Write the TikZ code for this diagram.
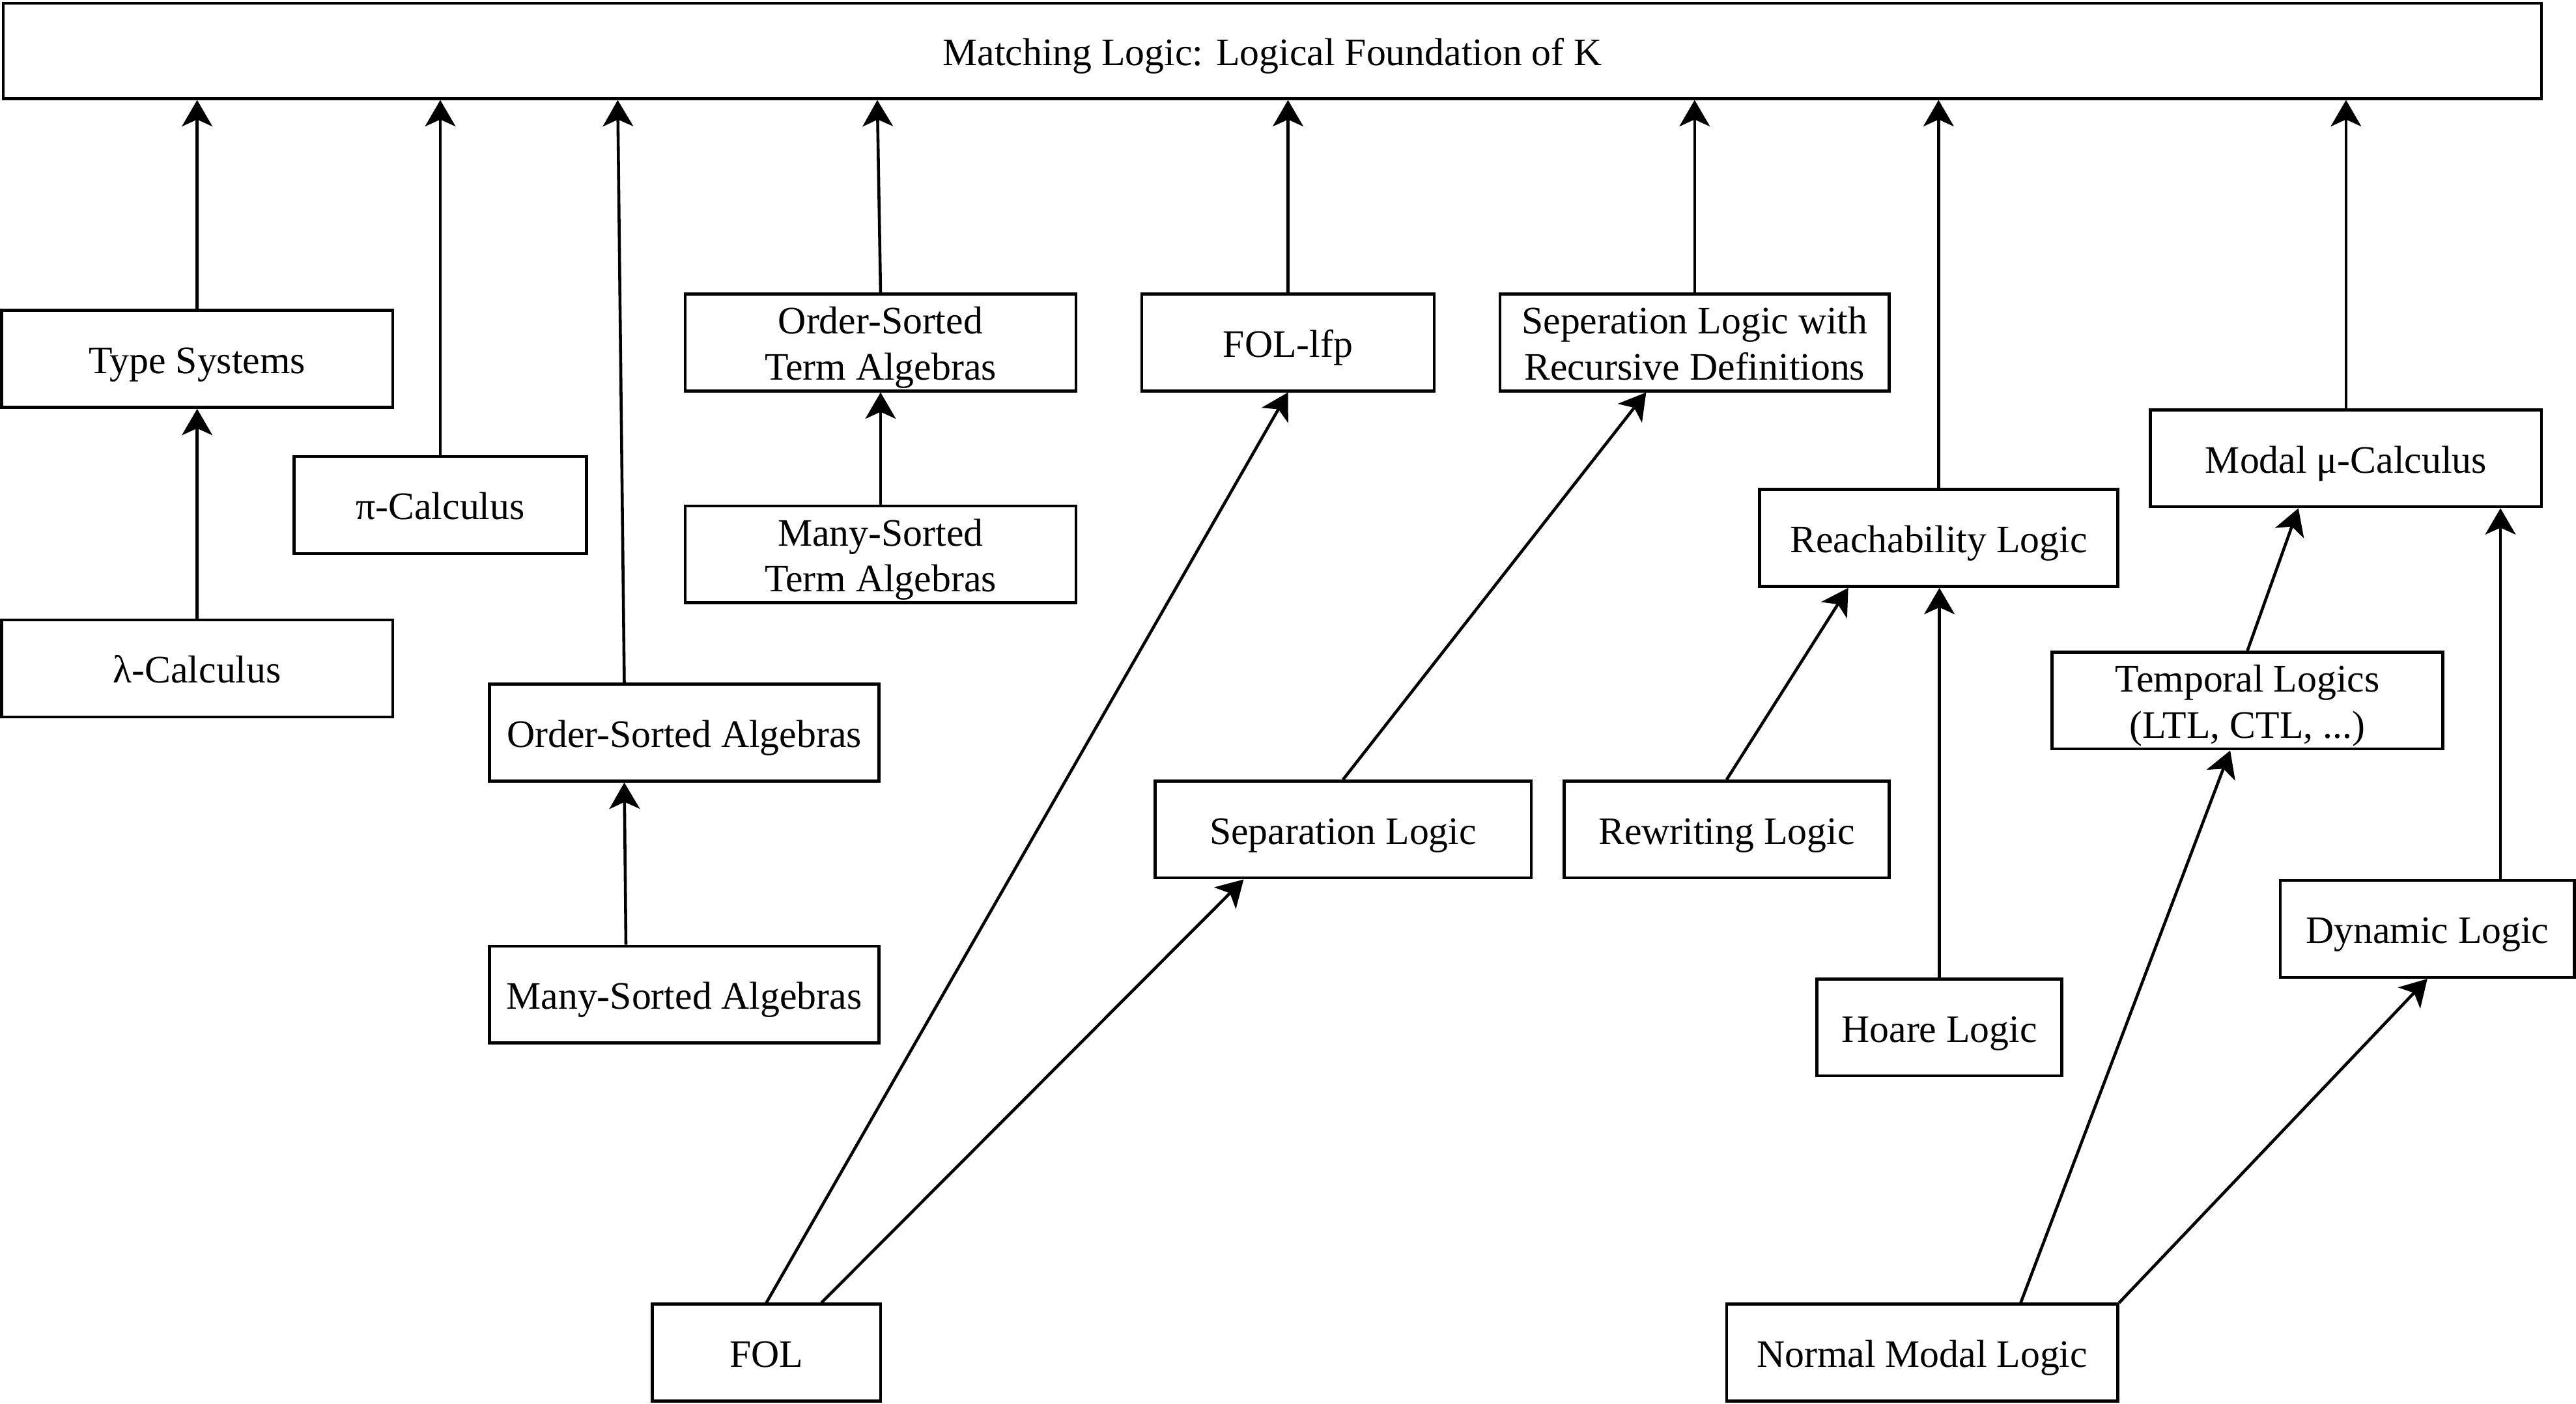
\documentclass[tikz,border=0pt]{standalone}
\usepackage{fontspec}
\setmainfont{Liberation Serif}
\usetikzlibrary{arrows.meta,calc}
\newcommand\lstr{\rule[-3.7pt]{0pt}{20.1pt}}
\begin{document}
\begin{tikzpicture}[x=0.025223cm,y=-0.025223cm,
  box/.style={draw,line width=1.3pt,inner sep=0pt,align=center,minimum height=59*0.025223cm,execute at begin node=\lstr},
  bw/.style={minimum width=#1*0.025223cm},
  arr/.style={line width=1.3pt,-{Stealth[length=11.5pt,width=13.3pt,inset=3pt]}},
  font=\fontsize{17}{20.1}\selectfont]
\useasboundingbox (0,0) rectangle (1568,854.4);
\node[box,bw=1545,minimum height=58*0.025223cm] (top) at (774.5,31) {Matching Logic: Logical Foundation of K};
\node[box,bw=238] (types) at (120,218.5) {Type Systems};
\node[box,bw=238] (lambda) at (120,407) {λ-Calculus};
\node[box,bw=178] (pi) at (268,307.5) {π-Calculus};
\node[box,bw=237] (osa) at (416.5,446) {Order-Sorted Algebras};
\node[box,bw=237] (msa) at (416.5,605.5) {Many-Sorted Algebras};
\node[box,bw=238] (osta) at (536,208.5) {\lstr Order-Sorted\\\lstr Term Algebras};
\node[box,bw=238] (msta) at (536,337.5) {\lstr Many-Sorted\\\lstr Term Algebras};
\node[box,bw=178] (follfp) at (784,208.5) {FOL-lfp};
\node[box,bw=237] (seprec) at (1031.5,208.5) {\lstr Seperation Logic with\\\lstr Recursive Definitions};
\node[box,bw=229] (sep) at (817.5,505) {Separation Logic};
\node[box,bw=198] (rw) at (1051,505) {Rewriting Logic};
\node[box,bw=218] (reach) at (1180,327.5) {Reachability Logic};
\node[box,bw=149] (hoare) at (1180.5,625.5) {Hoare Logic};
\node[box,bw=238] (modal) at (1428,279) {Modal μ-Calculus};
\node[box,bw=238] (temporal) at (1368,426.5) {\lstr Temporal Logics\\\lstr (LTL, CTL, ...)};
\node[box,bw=179] (dynamic) at (1477.5,565.5) {Dynamic Logic};
\node[box,bw=139] (fol) at (466.5,823.5) {FOL};
\node[box,bw=238] (nml) at (1170,823.5) {Normal Modal Logic};
% arrows to top
\draw[arr] (types.north) -- (types.north |- top.south);
\draw[arr] (pi.north) -- (pi.north |- top.south);
\draw[arr] ($(osa.north)+(-36.5,0)$) -- ($(top.south -| osa.north)+(-40.5,0)$);
\draw[arr] (osta.north) -- ($(top.south -| osta.north)+(-2,0)$);
\draw[arr] (follfp.north) -- (follfp.north |- top.south);
\draw[arr] (seprec.north) -- (seprec.north |- top.south);
\draw[arr] (reach.north) -- (reach.north |- top.south);
\draw[arr] (modal.north) -- (modal.north |- top.south);
% inner arrows
\draw[arr] (lambda.north) -- (types.south);
\draw[arr] ($(msa.north)+(-35.5,0)$) -- ($(osa.south)+(-36.5,0)$);
\draw[arr] (msta.north) -- (osta.south);
\draw[arr] (fol.north) -- (follfp.south);
\draw[arr] ($(fol.north)+(33.5,0)$) -- ($(sep.south)+(-60.5,0)$);
\draw[arr] (sep.north) -- ($(seprec.south)+(-29.5,0)$);
\draw[arr] (rw.north) -- ($(reach.south)+(-55,0)$);
\draw[arr] (hoare.north) -- (hoare.north |- reach.south);
\draw[arr] (temporal.north) -- ($(modal.south)+(-29,0)$);
\draw[arr] ($(dynamic.north)+(44.5,0)$) -- ($(modal.south)+(94,0)$);
\draw[arr] ($(nml.north)+(60,0)$) -- ($(temporal.south)+(-10.5,0)$);
\draw[arr] (nml.north east) -- (dynamic.south);
\end{tikzpicture}
\end{document}
